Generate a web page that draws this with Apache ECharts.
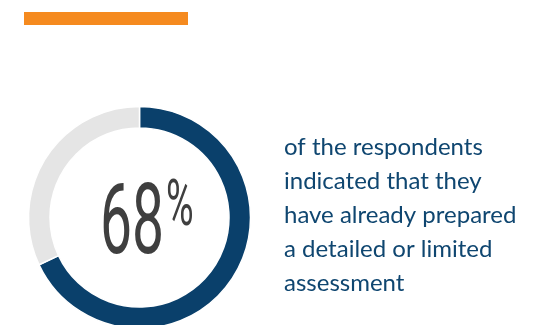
<!DOCTYPE html>
<html>
<head>
<meta charset="utf-8">
<style>
  html, body { margin: 0; padding: 0; background: #ffffff; }
  #chart { width: 538px; height: 325px; }
</style>
<script src="https://cdn.jsdelivr.net/npm/echarts@6/dist/echarts.min.js"></script>
</head>
<body>
<div id="chart"></div>
<script>
// Survey share: respondents who prepared an assessment vs. the rest
const categories = ['Prepared an assessment', 'Not prepared'];
const shares = [68, 32];
const descriptionLines = [
  'of the respondents',
  'indicated that they',
  'have already prepared',
  'a detailed or limited',
  'assessment'
];

const BLUE = '#0a406b';
const GREY = '#e5e5e5';
const ORANGE = '#f58a1f';

const chart = echarts.init(document.getElementById('chart'), null, { renderer: 'canvas' });

chart.setOption({
  backgroundColor: '#ffffff',
  animation: false,
  graphic: [
    // accent bar
    { type: 'rect', shape: { x: 24, y: 12, width: 164, height: 13 }, style: { fill: ORANGE } },
    // big percentage number, horizontally condensed
    {
      type: 'text',
      x: 100, y: 229,
      scaleX: 0.6, scaleY: 1.03,
      style: {
        text: String(shares[0]),
        font: '400 95px Roboto',
        fill: '#3f3f3f',
        align: 'left',
        verticalAlign: 'middle'
      }
    },
    {
      type: 'text',
      x: 166, y: 209,
      scaleX: 0.58, scaleY: 1,
      style: {
        text: '%',
        font: '400 65px Roboto',
        fill: '#3f3f3f',
        align: 'left',
        verticalAlign: 'middle'
      }
    },
    {
      type: 'text',
      x: 284, y: 130,
      style: {
        text: descriptionLines.join('\n'),
        font: '24px Lato',
        lineHeight: 34,
        fill: '#0f4670',
        align: 'left',
        verticalAlign: 'top'
      }
    }
  ],
  series: [{
    type: 'pie',
    center: [139.5, 217.5],
    radius: [89.5, 111],
    startAngle: 90,
    clockwise: true,
    silent: true,
    label: { show: false },
    labelLine: { show: false },
    itemStyle: { borderColor: '#ffffff', borderWidth: 1.5 },
    data: categories.map((name, i) => ({
      name: name,
      value: shares[i],
      itemStyle: { color: i === 0 ? BLUE : GREY }
    }))
  }]
});
</script>
</body>
</html>
